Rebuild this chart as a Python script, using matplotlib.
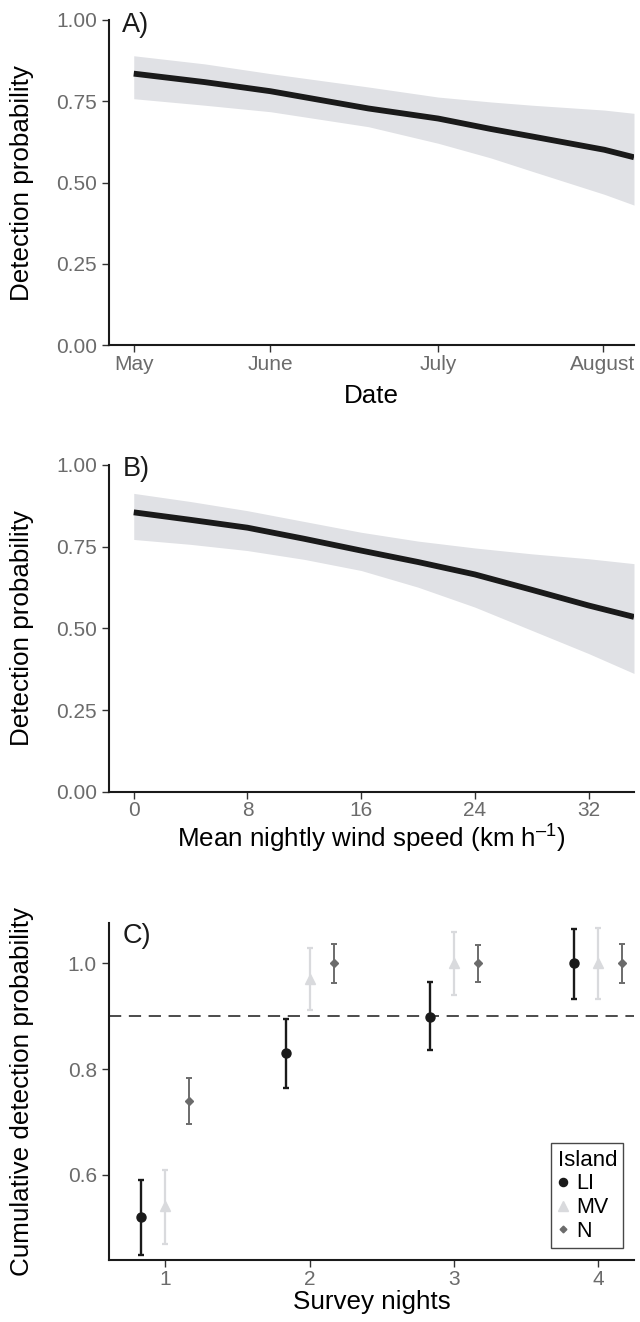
import matplotlib
matplotlib.use('Agg')
import matplotlib.pyplot as plt
from matplotlib.lines import Line2D

plt.rcParams['font.family'] = ['Liberation Sans', 'DejaVu Sans']
plt.rcParams['mathtext.fontset'] = 'custom'
plt.rcParams['mathtext.rm'] = 'Liberation Sans'
plt.rcParams['mathtext.it'] = 'Liberation Sans:italic'
plt.rcParams['mathtext.default'] = 'regular'

# ---------------- Data ----------------
# Panel A: detection probability vs date (days since 1 May)
date_days = [0, 13.9, 26.8, 46.0, 59.7, 70, 78.1, 92.3, 98.1]
date_mean = [0.835, 0.809, 0.781, 0.728, 0.697, 0.665, 0.642, 0.601, 0.578]
date_upper = [0.890, 0.865, 0.835, 0.794, 0.763, 0.748, 0.738, 0.723, 0.713]
date_lower = [0.758, 0.738, 0.718, 0.672, 0.621, 0.576, 0.535, 0.464, 0.431]
month_labels = ['May', 'June', 'July', 'August']
month_ticks = [0, 26.8, 59.7, 92]

# Panel B: detection probability vs wind speed
wind = [0, 4, 8, 12, 16, 20, 24, 28, 32, 35.2]
wind_mean = [0.855, 0.832, 0.808, 0.774, 0.738, 0.703, 0.665, 0.618, 0.570, 0.535]
wind_upper = [0.913, 0.888, 0.860, 0.827, 0.794, 0.767, 0.746, 0.728, 0.713, 0.698]
wind_lower = [0.772, 0.757, 0.738, 0.711, 0.677, 0.626, 0.565, 0.494, 0.423, 0.362]
wind_ticks = [0, 8, 16, 24, 32]

# Panel C: cumulative detection probability by survey nights and island
nights = [1, 2, 3, 4]
islands = ['LI', 'MV', 'N']
li_est = [0.519, 0.830, 0.899, 1.0]
li_lo = [0.448, 0.765, 0.836, 0.932]
li_hi = [0.590, 0.895, 0.965, 1.066]
mv_est = [0.541, 0.970, 1.0, 1.0]
mv_lo = [0.469, 0.911, 0.940, 0.932]
mv_hi = [0.609, 1.029, 1.060, 1.067]
n_est = [0.740, 1.0, 1.0, 1.0]
n_lo = [0.696, 0.962, 0.964, 0.962]
n_hi = [0.784, 1.036, 1.035, 1.036]
threshold = 0.9

# ---------------- Style ----------------
LINE = '#1a1a1a'
BAND = '#e0e1e5'
TICKLAB = '#6b6b6b'
TICKCOL = '#333333'
C_LI = '#1a1a1a'
C_MV = '#d9dadd'
C_N = '#6b6b6b'
TITLE_FS = 18.7
TICK_FS = 15

fig = plt.figure(figsize=(6.4, 13.22), dpi=100)
axA = fig.add_axes([0.1708, 0.7388, 0.8198, 0.2461])
axB = fig.add_axes([0.1708, 0.4011, 0.8198, 0.2472])
axC = fig.add_axes([0.1708, 0.0467, 0.8198, 0.2553])


def style(ax):
    for s in ['top', 'right']:
        ax.spines[s].set_visible(False)
    for s in ['left', 'bottom']:
        ax.spines[s].set_linewidth(1.5)
        ax.spines[s].set_color(LINE)
    ax.tick_params(length=4.7, width=1.0, color=TICKCOL, labelcolor=TICKLAB,
                   labelsize=TICK_FS)
    ax.tick_params(axis='x', pad=2.2)
    ax.tick_params(axis='y', pad=4.2)
    ax.yaxis.set_label_coords(-0.1673, 0.5)


# Panel A
axA.fill_between(date_days, date_lower, date_upper, color=BAND, lw=0)
axA.plot(date_days, date_mean, color=LINE, lw=4.2, solid_capstyle='butt')
axA.set_xlim(-4.79, 98.1)
axA.set_ylim(0, 1)
axA.set_xticks(month_ticks)
axA.set_xticklabels(month_labels)
axA.set_yticks([0, 0.25, 0.5, 0.75, 1.0])
axA.set_yticklabels(['0.00', '0.25', '0.50', '0.75', '1.00'])
axA.set_xlabel('Date', fontsize=TITLE_FS, labelpad=7)
axA.set_ylabel('Detection probability', fontsize=TITLE_FS, va='center')
style(axA)
axA.text(0.0236, 0.964, 'A)', transform=axA.transAxes, fontsize=19.5,
         va='baseline', ha='left', color=LINE)

# Panel B
axB.fill_between(wind, wind_lower, wind_upper, color=BAND, lw=0)
axB.plot(wind, wind_mean, color=LINE, lw=4.2, solid_capstyle='butt')
axB.set_xlim(-1.72, 35.2)
axB.set_ylim(0, 1)
axB.set_xticks(wind_ticks)
axB.set_yticks([0, 0.25, 0.5, 0.75, 1.0])
axB.set_yticklabels(['0.00', '0.25', '0.50', '0.75', '1.00'])
axB.set_xlabel('Mean nightly wind speed (km h$^{\u2013 1}$)', fontsize=TITLE_FS,
               labelpad=1.5)
axB.set_ylabel('Detection probability', fontsize=TITLE_FS, va='center')
style(axB)
axB.text(0.0255, 0.966, 'B)', transform=axB.transAxes, fontsize=19.5,
         va='baseline', ha='left', color=LINE)

# Panel C
axC.axhline(threshold, color=LINE, lw=1.1, linestyle=(0, (8, 5)), zorder=1)
series = [
    ('LI', li_est, li_lo, li_hi, C_LI, 'o', 6.5, -1 / 6, 1.7),
    ('MV', mv_est, mv_lo, mv_hi, C_MV, '^', 7.5, 0.0, 1.6),
    ('N', n_est, n_lo, n_hi, C_N, 'D', 3.8, 1 / 6, 1.4),
]
handles = []
for name, est, lo, hi, col, mk, ms, off, lw in series:
    xs = [n + off for n in nights]
    yerr = [[e - l for e, l in zip(est, lo)], [h - e for e, h in zip(est, hi)]]
    axC.errorbar(xs, est, yerr=yerr, fmt=mk, color=col, ms=ms, elinewidth=lw,
                 capsize=2.2, capthick=lw, zorder=3)
    handles.append(Line2D([], [], marker=mk, color=col, linestyle='none',
                          markersize=ms * 0.9, label=name))
axC.set_xlim(0.613, 4.247)
axC.set_ylim(0.438, 1.077)
axC.set_xticks(nights)
axC.set_yticks([0.6, 0.8, 1.0])
axC.set_yticklabels(['0.6', '0.8', '1.0'])
axC.set_xlabel('Survey nights', fontsize=TITLE_FS, labelpad=0.5)
axC.set_ylabel('Cumulative detection probability', fontsize=TITLE_FS, va='center')
style(axC)
axC.text(0.0255, 0.941, 'C)', transform=axC.transAxes, fontsize=19.5,
         va='baseline', ha='left', color=LINE)
leg = axC.legend(handles=handles, title='Island', loc='lower right',
                 bbox_to_anchor=(0.98, 0.036), borderaxespad=0, fontsize=15.5,
                 title_fontsize=16, frameon=True, fancybox=False,
                 handlelength=0.55, handletextpad=0.3, labelspacing=0.12,
                 borderpad=0.3, alignment='left')
leg.get_frame().set_edgecolor(LINE)
leg.get_frame().set_linewidth(1.0)

fig.savefig('out.png', dpi=100)
